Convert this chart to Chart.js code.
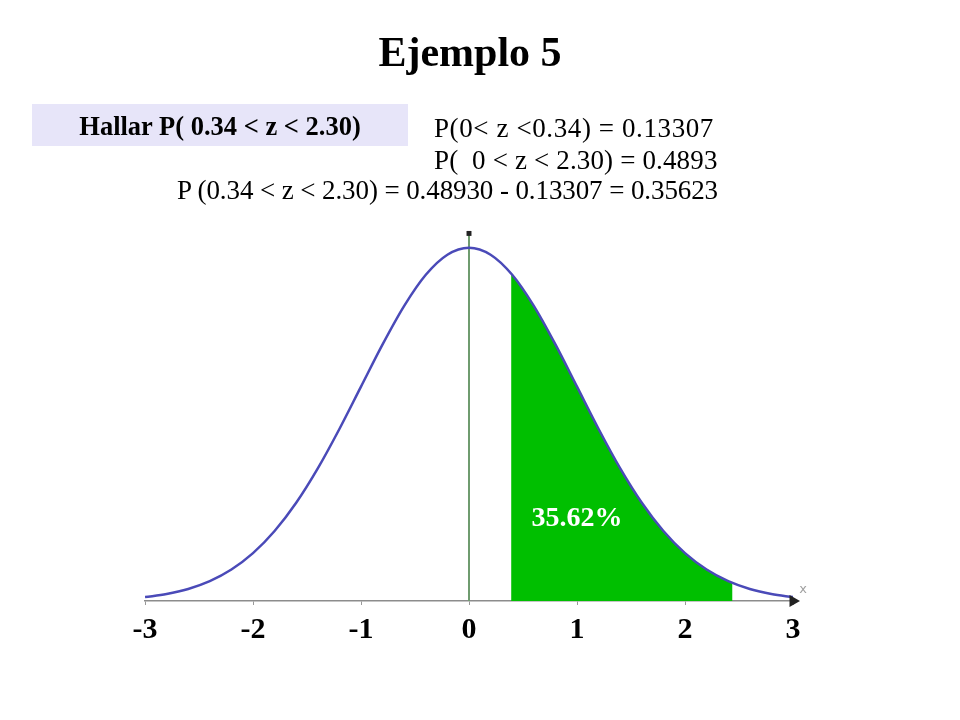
<!DOCTYPE html>
<html>
<head>
<meta charset="utf-8">
<script src="https://cdn.jsdelivr.net/npm/chart.js@4.4.1/dist/chart.umd.min.js"></script>
<style>
  body { margin: 0; background: #fff; }
  #wrap { position: relative; width: 960px; height: 720px; overflow: hidden; font-family: "Liberation Serif", "Times New Roman", serif; }
  #chart { position: absolute; left: 0; top: 0; }
  .txt { position: absolute; white-space: pre; color: #000; line-height: 1; }
  #title { left: 0; width: 940px; top: 31px; text-align: center; font-size: 42px; font-weight: bold; }
  #box { position: absolute; left: 32px; top: 104px; width: 376px; height: 42px; background: #e7e5f9; }
  #hallar { left: 32px; width: 376px; top: 113px; text-align: center; font-size: 26.5px; font-weight: bold; }
  #l1 { left: 434px; top: 115px; font-size: 27px; letter-spacing: 0.6px; }
  #l2 { left: 434px; top: 147px; font-size: 27px; letter-spacing: 0.15px; }
  #l3 { left: 177px; top: 177px; font-size: 27px; letter-spacing: -0.1px; }
</style>
</head>
<body>
<div id="wrap">
  <canvas id="chart" width="960" height="720"></canvas>
  <div class="txt" id="title">Ejemplo 5</div>
  <div id="box"></div>
  <div class="txt" id="hallar">Hallar P( 0.34 &lt; z &lt; 2.30)</div>
  <div class="txt" id="l1">P(0&lt; z &lt;0.34) = 0.13307</div>
  <div class="txt" id="l2">P(  0 &lt; z &lt; 2.30) = 0.4893</div>
  <div class="txt" id="l3">P (0.34 &lt; z &lt; 2.30) = 0.48930 - 0.13307 = 0.35623</div>
</div>
<script>
// curve (density values)
var curveX = [-3, -2.8, -2.6, -2.4, -2.2, -2, -1.8, -1.6, -1.4, -1.2, -1, -0.8, -0.6, -0.4, -0.2, 0,
  0.2, 0.4, 0.6, 0.8, 1, 1.2, 1.4, 1.6, 1.8, 2, 2.2, 2.4, 2.6, 2.8, 3];
var curveY = [0.0044, 0.0079, 0.0136, 0.0224, 0.0355, 0.054, 0.079, 0.1109, 0.1497, 0.1942, 0.242, 0.2897, 0.3332, 0.3683, 0.391, 0.3989,
  0.391, 0.3683, 0.3332, 0.2897, 0.242, 0.1942, 0.1497, 0.1109, 0.079, 0.054, 0.0355, 0.0224, 0.0136, 0.0079, 0.0044];

// shaded region (green)
var areaX = [0.39, 0.6, 0.8, 1, 1.2, 1.4, 1.6, 1.8, 2, 2.2, 2.44];
var areaY = [0.3697, 0.3332, 0.2897, 0.242, 0.1942, 0.1497, 0.1109, 0.079, 0.054, 0.0355, 0.0203];

var xTicks = [-3, -2, -1, 0, 1, 2, 3];
var areaLabel = "35.62%";
var labelPos = { x: 1.0, y: 0.093 };
var axisTop = 0.415;

function toPoints(xs, ys) {
  var pts = [];
  for (var i = 0; i < xs.length; i++) pts.push({ x: xs[i], y: ys[i] });
  return pts;
}

var extras = {
  id: "extras",
  afterDatasetsDraw: function (chart) {
    var ctx = chart.ctx;
    var xs = chart.scales.x, ys = chart.scales.y;
    ctx.save();
    ctx.fillStyle = "#ffffff";
    ctx.font = "bold 28px 'Liberation Serif'";
    ctx.textAlign = "center";
    ctx.textBaseline = "middle";
    ctx.fillText(areaLabel, xs.getPixelForValue(labelPos.x), ys.getPixelForValue(labelPos.y));
    // axis name near arrow
    ctx.fillStyle = "#a0a0a0";
    ctx.font = "13px 'DejaVu Sans'";
    ctx.fillText("x", xs.getPixelForValue(3) + 10, ys.getPixelForValue(0) - 11);
    ctx.restore();
  }
};

new Chart(document.getElementById("chart"), {
  type: "line",
  data: {
    datasets: [
      {
        data: toPoints(curveX, curveY),
        borderColor: "#4a4ab8",
        borderWidth: 2.5,
        pointRadius: 0,
        cubicInterpolationMode: "monotone",
        fill: false,
        order: 1
      },
      {
        data: [{ x: 0, y: 0 }, { x: 0, y: axisTop }],
        borderColor: "#6f9c6f",
        borderWidth: 2,
        pointRadius: 0,
        fill: false,
        order: 2
      },
      {
        data: [{ x: 0, y: axisTop }],
        pointStyle: "rect",
        pointRadius: 3.5,
        pointBackgroundColor: "#222",
        pointBorderWidth: 0,
        showLine: false,
        order: 1
      },
      {
        data: [{ x: 3, y: 0 }],
        pointStyle: "triangle",
        rotation: 90,
        pointRadius: 7,
        pointBackgroundColor: "#222",
        pointBorderWidth: 0,
        showLine: false,
        clip: false,
        order: 0
      },
      {
        data: toPoints(areaX, areaY),
        borderWidth: 0,
        pointRadius: 0,
        backgroundColor: "#00bf00",
        cubicInterpolationMode: "monotone",
        fill: "origin",
        order: 3
      }
    ]
  },
  options: {
    responsive: false,
    devicePixelRatio: 1,
    animation: false,
    layout: { padding: { left: 145, right: 167, top: 229, bottom: 79 } },
    plugins: { legend: { display: false }, tooltip: { enabled: false }, title: { display: false } },
    scales: {
      x: {
        type: "linear",
        min: -3,
        max: 3,
        afterBuildTicks: function (s) { s.ticks = xTicks.map(function (v) { return { value: v }; }); },
        afterFit: function (s) { s.height = 40; },
        ticks: {
          color: "#000",
          padding: 7,
          font: { family: "'Liberation Serif'", size: 30, weight: "bold" }
        },
        grid: { drawOnChartArea: false, tickLength: 4, color: "#999" },
        border: { color: "#8c8c8c", width: 1.5 }
      },
      y: { display: false, min: 0, max: 0.42 }
    }
  },
  plugins: [extras]
});
</script>
</body>
</html>
